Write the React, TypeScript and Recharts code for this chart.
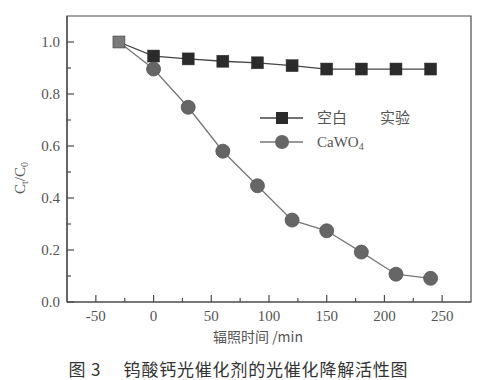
import React from "react";
import { LineChart, Line, XAxis, YAxis, ReferenceArea } from "recharts";

const times = [-30, 0, 30, 60, 90, 120, 150, 180, 210, 240];
const blankValues = [1.0, 0.946, 0.935, 0.926, 0.92, 0.909, 0.896, 0.896, 0.896, 0.896];
const cawo4Values = [1.0, 0.896, 0.749, 0.58, 0.447, 0.315, 0.274, 0.192, 0.107, 0.091];
const xTicks = [-75, -50, -25, 0, 25, 50, 75, 100, 125, 150, 175, 200, 225, 250, 275];
const yTicks = [0, 0.1, 0.2, 0.3, 0.4, 0.5, 0.6, 0.7, 0.8, 0.9, 1.0, 1.1];
const blankName = "空白";
const blankName2 = "实验";
const cawoName = "CaWO";
const cawoSub = "4";
const xTitle = "辐照时间 /min";
const caption = "图 3　 钨酸钙光催化剂的光催化降解活性图";

const data = times.map((t, i) => ({ t, blank: blankValues[i], cawo: cawo4Values[i] }));

const serif = "'Liberation Serif', 'DejaVu Serif', serif";
const cjk = "'Noto Sans CJK SC', sans-serif";
const axisColor = "#4a4a4a";
const textColor = "#555";

const XTick = (props: any) => {
  const { x, y, payload } = props;
  const v = payload.value;
  if (v <= -75 || v >= 275) return <g />;
  const major = v % 50 === 0;
  return (
    <g>
      <line x1={x} x2={x} y1={y} y2={y - (major ? 7 : 4)} stroke={axisColor} strokeWidth={1.2} />
      {major && (
        <text x={x} y={y + 19} textAnchor="middle" style={{ fontFamily: serif, fontSize: 15 }} fill={textColor}>
          {v}
        </text>
      )}
    </g>
  );
};

const YTick = (props: any) => {
  const { x, y, payload } = props;
  const v = payload.value;
  const k = Math.round(v * 10);
  if (k >= 11) return <g />;
  const major = k % 2 === 0;
  return (
    <g>
      <line x1={x} x2={x + (major ? 7 : 4)} y1={y} y2={y} stroke={axisColor} strokeWidth={1.2} />
      {major && (
        <text x={x - 7} y={y + 5} textAnchor="end" style={{ fontFamily: serif, fontSize: 15 }} fill={textColor}>
          {v.toFixed(1)}
        </text>
      )}
    </g>
  );
};

const SquareDot = (props: any) => {
  const { cx, cy, index } = props;
  const s = 12;
  const fill = index === 0 ? "#7a7a7a" : "#2b2b2b";
  return <rect key={"s" + index} x={cx - s / 2} y={cy - s / 2} width={s} height={s} fill={fill} stroke="#333" strokeWidth={0.5} />;
};

const CircleDot = (props: any) => {
  const { cx, cy, index } = props;
  if (index === 0) return <g key={"c" + index} />;
  return <circle key={"c" + index} cx={cx} cy={cy} r={7} fill="#666" stroke="#555" strokeWidth={0.8} />;
};

const YLabel = () => (
  <text transform="translate(25,178) rotate(-90)" textAnchor="middle" style={{ fontFamily: serif, fontSize: 15 }} fill={textColor}>
    C<tspan style={{ fontSize: 10 }} dy={3}>t</tspan>
    <tspan dy={-3}>/C</tspan>
    <tspan style={{ fontSize: 10 }} dy={3}>0</tspan>
  </text>
);

const XLabel = () => (
  <text x={258} y={342} textAnchor="middle" style={{ fontFamily: cjk, fontSize: 14 }} fill={textColor}>
    {xTitle}
  </text>
);

const LegendBox = () => (
  <svg width={200} height={52} style={{ position: "absolute", left: 255, top: 105 }}>
    <line x1={5} x2={48} y1={13} y2={13} stroke="#444" strokeWidth={1.3} />
    <rect x={21} y={7} width={12} height={12} fill="#2b2b2b" />
    <text x={62} y={18} style={{ fontFamily: cjk, fontSize: 15 }} fill={textColor}>
      {blankName}
    </text>
    <text x={125} y={18} style={{ fontFamily: cjk, fontSize: 15 }} fill={textColor}>
      {blankName2}
    </text>
    <line x1={5} x2={48} y1={37} y2={37} stroke="#777" strokeWidth={1.3} />
    <circle cx={27} cy={37} r={7} fill="#666" />
    <text x={62} y={42} style={{ fontFamily: serif, fontSize: 15 }} fill={textColor}>
      {cawoName}
      <tspan style={{ fontSize: 10 }} dy={3}>{cawoSub}</tspan>
    </text>
  </svg>
);

export default function App() {
  return (
    <div style={{ position: "absolute", left: 0, top: 0, width: 493, height: 380, background: "#fff" }}>
      <LineChart width={493} height={380} data={data} margin={{ top: 16, right: 22, bottom: 48, left: 0 }}>
        <XAxis
          dataKey="t"
          type="number"
          domain={[-75, 275]}
          ticks={xTicks}
          interval={0}
          tickSize={0}
          tickMargin={0}
          tickLine={false}
          tick={<XTick />}
          height={30}
          stroke={axisColor}
          strokeWidth={1.2}
          label={<XLabel />}
        />
        <YAxis
          type="number"
          domain={[0, 1.1]}
          ticks={yTicks}
          interval={0}
          tickSize={0}
          tickMargin={0}
          tickLine={false}
          tick={<YTick />}
          width={67}
          stroke={axisColor}
          strokeWidth={1.2}
          label={<YLabel />}
        />
        <ReferenceArea x1={-75} x2={275} y1={0} y2={1.1} fill="none" stroke={axisColor} strokeWidth={1.2} ifOverflow="visible" />
        <Line dataKey="blank" stroke="#444" strokeWidth={1.3} dot={<SquareDot />} isAnimationActive={false} />
        <Line dataKey="cawo" stroke="#777" strokeWidth={1.3} dot={<CircleDot />} isAnimationActive={false} />
      </LineChart>
      <LegendBox />
      <div
        style={{
          position: "absolute",
          left: 0,
          width: 493,
          top: 356,
          textAlign: "center",
          fontFamily: cjk,
          fontSize: 17,
          color: "#333",
          letterSpacing: 0.8,
          whiteSpace: "pre",
          paddingRight: 16,
          boxSizing: "border-box",
        }}
      >
        {caption}
      </div>
    </div>
  );
}
